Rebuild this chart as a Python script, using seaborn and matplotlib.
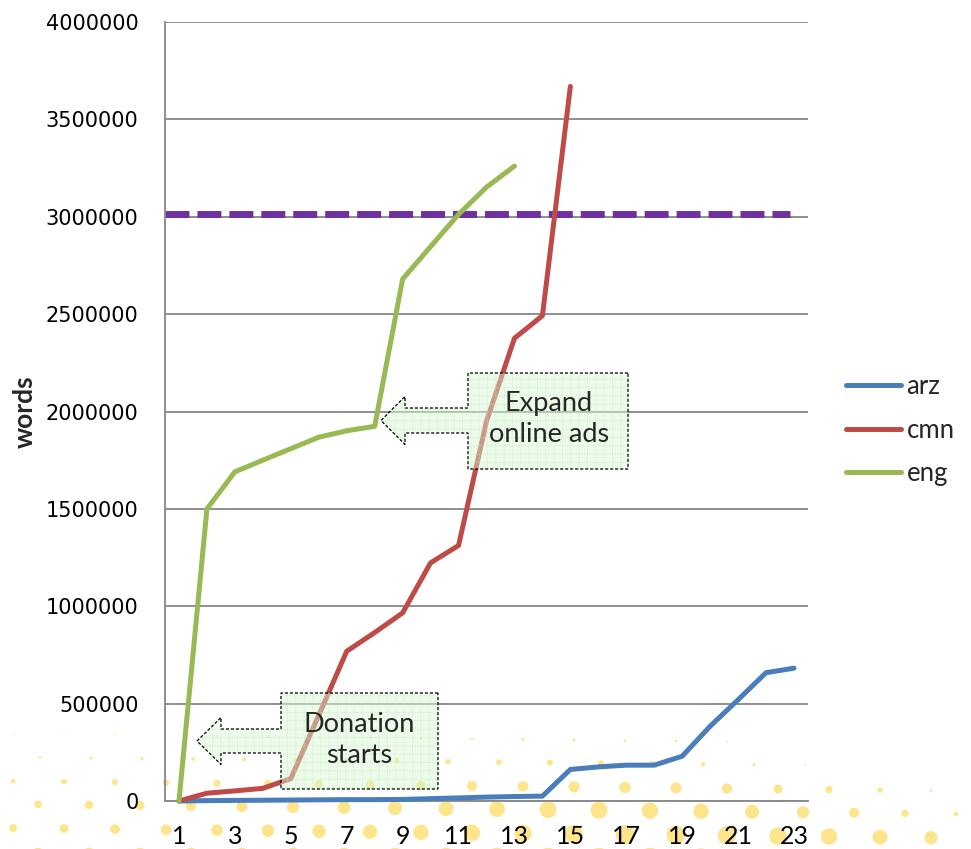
import numpy as np
import pandas as pd
import matplotlib
matplotlib.use("Agg")
import matplotlib.pyplot as plt
import seaborn as sns
from matplotlib.patches import Polygon

# ---------------- data ----------------
langs = ["arz", "cmn", "eng"]
arz = [0, 2000, 3000, 4000, 5000, 6000, 7000, 7000, 8000, 12000, 16000, 20000,
       23000, 25000, 162000, 175000, 184000, 184000, 230000, 384000, 520000,
       659000, 682000]
cmn = [0, 40000, 52000, 65000, 115000, 440000, 769000, 865000, 966000,
       1223000, 1312000, 1950000, 2376000, 2492000, 3669000]
eng = [0, 1500000, 1690000, 1750000, 1809000, 1868000, 1901000, 1924000,
       2680000, 2847000, 3012000, 3152000, 3260000]
target = 3015000
y_ticks = list(range(0, 4000001, 500000))
x_ticks = list(range(1, 24, 2))
note_expand = "Expand\nonline ads"
note_donation = "Donation\nstarts"

records = []
for name, vals in zip(langs, [arz, cmn, eng]):
    for i, v in enumerate(vals):
        records.append({"day": i + 1, "words": v, "lang": name})
df = pd.DataFrame(records)

palette = {"arz": "#4A7EBB", "cmn": "#BE4B48", "eng": "#98B954"}

# ---------------- style ----------------
sns.set_style("white")
plt.rcParams["font.family"] = ["Lato", "DejaVu Sans"]
plt.rcParams["hatch.linewidth"] = 0.5

W, H = 971, 849
fig = plt.figure(figsize=(W / 100, H / 100), dpi=100)

# background decoration: yellow dot pattern (pixel coordinates)
bg = fig.add_axes([0, 0, 1, 1], zorder=0)
bg.set_xlim(0, W)
bg.set_ylim(H, 0)
bg.axis("off")
dot_rows = [  # (y, x offset, max diameter px, peak x, right falloff)
    (739, 13, 3.0, 560, 250),
    (762, 40, 6.0, 550, 300),
    (786, 13, 11.5, 600, 380),
    (809, 38, 17.0, 560, 460),
    (833, 13, 19.0, 620, 560),
    (857, 38, 22.0, 650, 620),
]
dx, dy, ds = [], [], []
for yr, off, amax, peak, rs in dot_rows:
    x = off
    while x < W + 10:
        if x <= peak:
            g = 0.4 + 0.6 * x / peak
        else:
            g = 1 - ((x - peak) / rs) ** 2
        d = amax * g
        if d > 0.8:
            dx.append(x)
            dy.append(yr + 0.0104 * (x - 485))
            ds.append((d * 0.72) ** 2)
        x += 51
bg.scatter(dx, dy, s=ds, color="#FDE58C", linewidths=0)

# main axes
ax = fig.add_axes([165 / W, 1 - 801 / H, 643 / W, 779 / H], zorder=1)
ax.patch.set_alpha(0)

sns.lineplot(data=df, x="day", y="words", hue="lang", palette=palette,
             hue_order=langs, linewidth=3.6, ax=ax, sort=True,
             errorbar=None, legend=True)
for ln in ax.lines:
    ln.set_solid_capstyle("round")
    ln.set_solid_joinstyle("round")
    ln.set_clip_on(False)
    ln.set_zorder(3)

ax.axhline(target, xmin=0, xmax=0.972, color="#7030A0", lw=5,
           dashes=(3.45, 1.15), dash_capstyle="butt", zorder=2.5)

ax.set_xlim(0.5, 23.5)
ax.set_ylim(0, 4000000)
ax.set_yticks(y_ticks)
ax.set_yticklabels([str(v) for v in y_ticks], fontfamily="DejaVu Sans",
                   fontsize=15)
ax.set_xticks(x_ticks)
ax.set_xticklabels([str(v) for v in x_ticks], fontsize=18)
ax.yaxis.grid(True, color="#878787", lw=1.3)
ax.xaxis.grid(False)
ax.set_axisbelow(True)
for side in ["top", "right"]:
    ax.spines[side].set_visible(False)
for side in ["left", "bottom"]:
    ax.spines[side].set_color("#878787")
    ax.spines[side].set_linewidth(1.3)
ax.tick_params(axis="y", length=5, width=1.3, color="#878787", pad=14,
               labelcolor="black")
ax.tick_params(axis="x", length=0, pad=17, labelcolor="black")
ax.set_xlabel("")
ax.set_ylabel("")
fig.text(25 / W, 1 - 412 / H, "words", rotation=90, ha="center",
         va="center", fontsize=19, fontweight="bold")

# legend
leg = ax.get_legend()
handles = list(leg.legend_handles)
labels = [t.get_text() for t in leg.get_texts()]
leg.remove()
for h in handles:
    h.set_linewidth(3.6)
    h.set_solid_capstyle("round")
fig.legend(handles, labels, loc="center left",
           bbox_to_anchor=(846 / W, 1 - 430 / H), frameon=False,
           fontsize=18.5, handlelength=2.15, handletextpad=0.2,
           labelspacing=0.72, borderpad=0, borderaxespad=0)


# callouts (left-arrow callout shapes), pixel coordinates
def callout(x0, x1, y0, y1, cy, shaft, head, base_x, tip_x, text, tx, ty):
    verts = [(x1, y0), (x0, y0), (x0, cy - shaft), (base_x, cy - shaft),
             (base_x, cy - head), (tip_x, cy), (base_x, cy + head),
             (base_x, cy + shaft), (x0, cy + shaft), (x0, y1), (x1, y1)]
    fill = Polygon(verts, closed=True, facecolor="#D8F7D4",
                   edgecolor="#BEEBB9", hatch="++", lw=0, alpha=0.45,
                   transform=bg.transData, zorder=4, clip_on=False)
    border = Polygon(verts, closed=True, fill=False, edgecolor="black",
                     lw=0.9, linestyle=(0, (2.5, 1.5)),
                     transform=bg.transData, zorder=4.1, clip_on=False)
    ax.add_patch(fill)
    ax.add_patch(border)
    ax.text(tx, ty, text, transform=bg.transData, ha="center", va="center",
            fontsize=19.5, linespacing=1.3, zorder=5, clip_on=False)


callout(468, 628, 373, 469, 420.5, 12.5, 24, 405, 381, note_expand, 549, 419)
callout(281, 438, 693, 789, 741, 12, 23.5, 221, 197, note_donation, 359, 740)

fig.savefig("out.png", dpi=100)
